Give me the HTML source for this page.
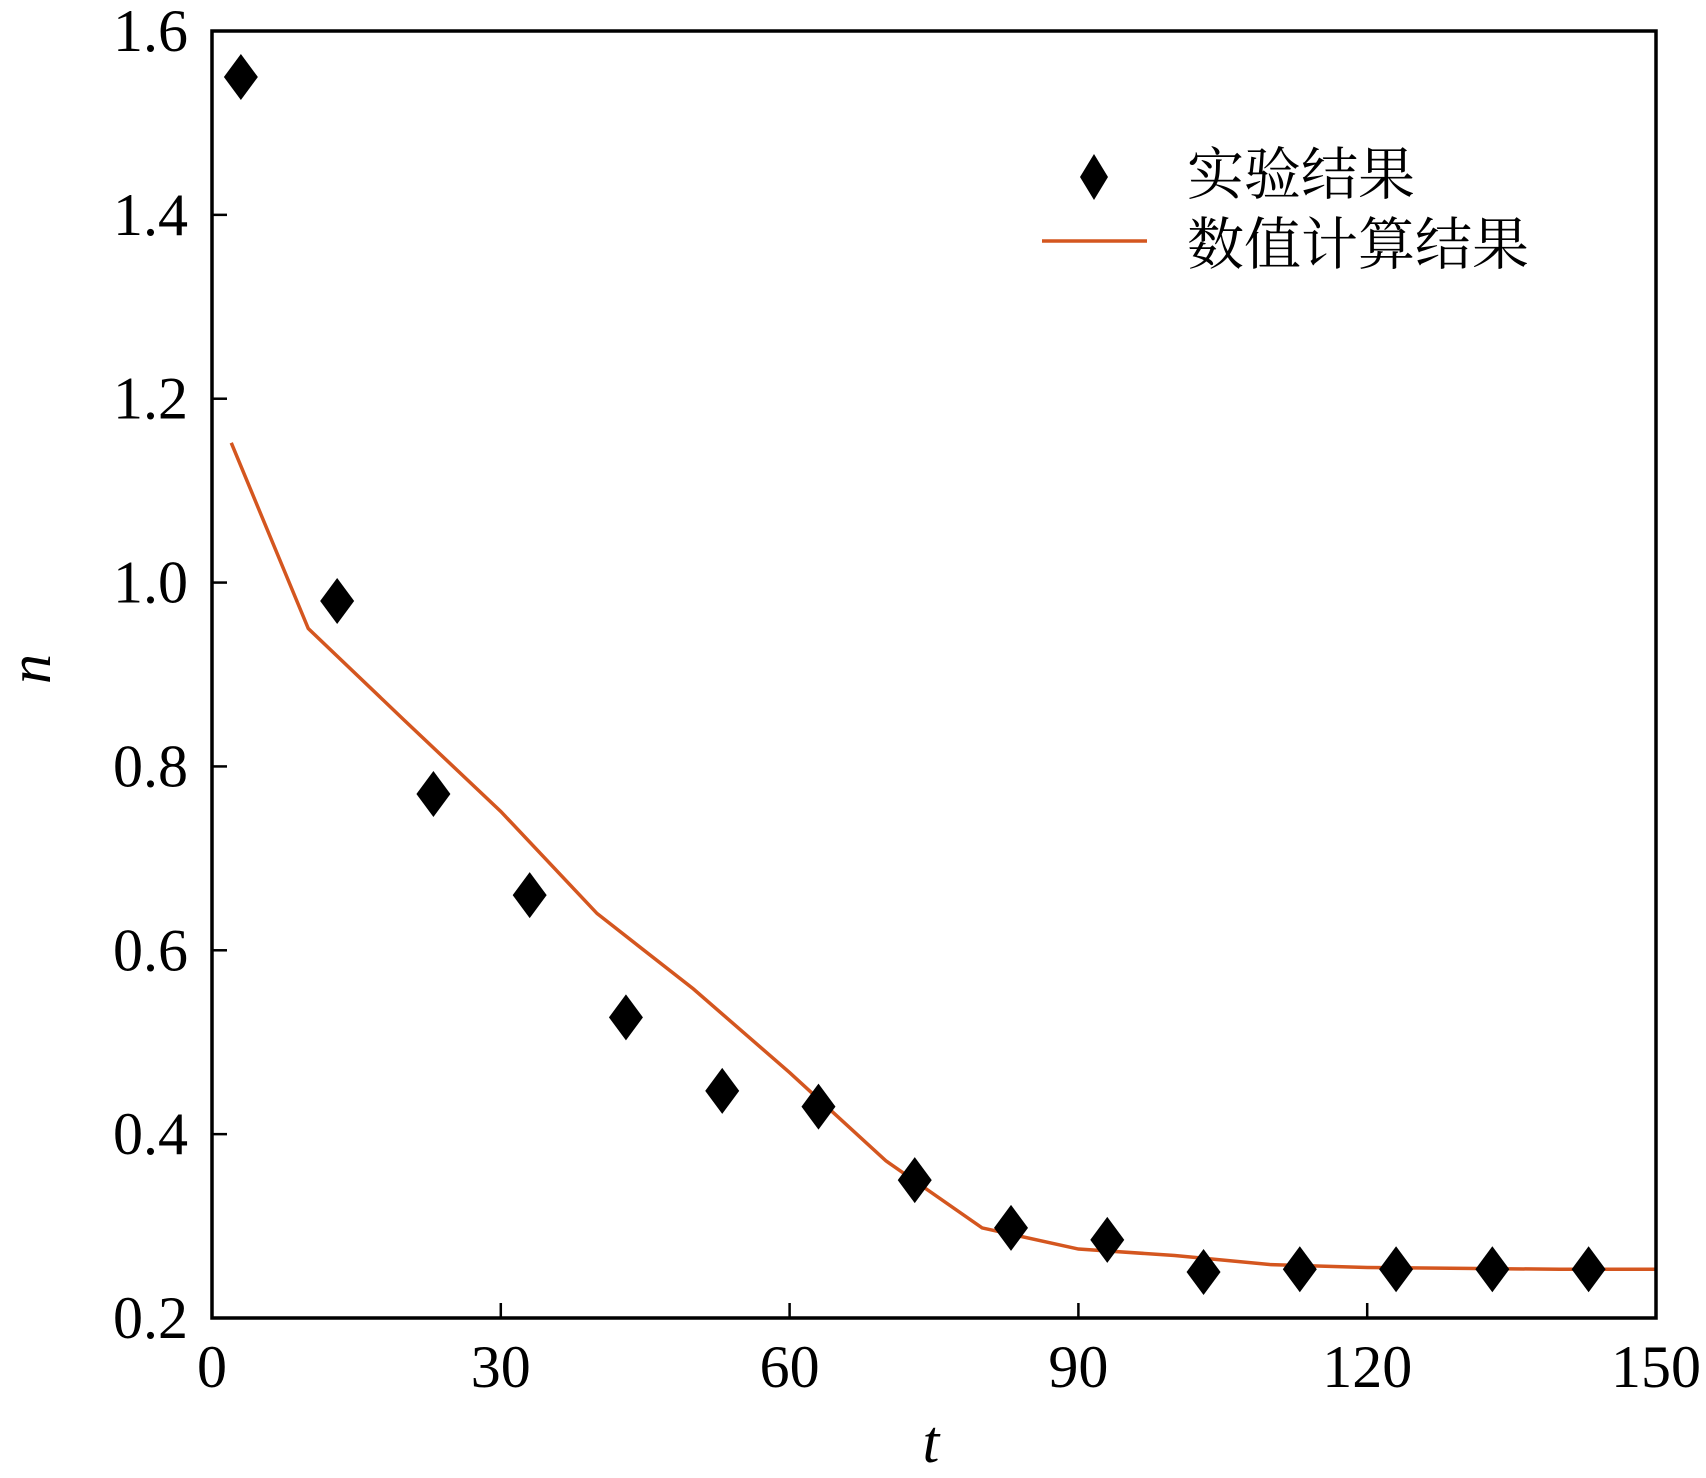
<!DOCTYPE html>
<html><head><meta charset="utf-8"><style>
html,body{margin:0;padding:0;background:#fff;}
svg{display:block;}
.tk{font-family:"Liberation Serif",serif;font-size:60px;fill:#000;}
.lg{font-family:"Liberation Serif","Noto Serif CJK SC",serif;font-size:57px;fill:#000;}
</style></head><body>
<svg id="chart" width="1706" height="1478" viewBox="0 0 1706 1478" xmlns="http://www.w3.org/2000/svg">
<g id="marks"></g>
<rect x="212" y="31" width="1444" height="1287" fill="none" stroke="#000" stroke-width="3.5"/>
<g id="ticks"></g>
<text class="tk" x="931" y="1462" text-anchor="middle" font-style="italic">t</text>
<text class="tk" transform="translate(50,669) rotate(-90)" text-anchor="middle" font-style="italic">n</text>
<g>
<polygon points="1094,154 1108,177 1094,200 1080,177" fill="#000"/>
<text class="lg" x="1187" y="194">实验结果</text>
<line x1="1042" y1="241" x2="1147" y2="241" stroke="#d4561f" stroke-width="3.5"/>
<text class="lg" x="1187" y="264">数值计算结果</text>
</g>
</svg>
<script>
const expT=[3,13,23,33,43,53,63,73,83,93,103,113,123,133,143];
const expN=[1.55,0.98,0.77,0.66,0.527,0.447,0.43,0.35,0.298,0.285,0.25,0.253,0.253,0.253,0.253];
const numT=[2,10,20,30,40,50,60,70,80,90,100,110,120,130,140,150];
const numN=[1.152,0.95,0.85,0.751,0.64,0.558,0.467,0.371,0.298,0.275,0.268,0.258,0.255,0.254,0.253,0.253];
const xTicks=[0,30,60,90,120,150];
const yTicks=[0.2,0.4,0.6,0.8,1.0,1.2,1.4,1.6];
const yLabels=["0.2","0.4","0.6","0.8","1.0","1.2","1.4","1.6"];
const X0=212,X1=1656,Y0=1318,Y1=31;
const sx=v=>X0+(v-0)/(150-0)*(X1-X0);
const sy=v=>Y0-(v-0.2)/(1.6-0.2)*(Y0-Y1);
const NS="http://www.w3.org/2000/svg";
const marks=document.getElementById('marks'),ticks=document.getElementById('ticks');
const line=document.createElementNS(NS,'polyline');
line.setAttribute('points',numT.map((t,i)=>sx(t)+','+sy(numN[i])).join(' '));
line.setAttribute('fill','none');line.setAttribute('stroke','#d4561f');line.setAttribute('stroke-width','3.5');


marks.appendChild(line);
expT.forEach((t,i)=>{const x=sx(t),y=sy(expN[i]);
const p=document.createElementNS(NS,'polygon');
p.setAttribute('points',`${x},${y-23} ${x+17},${y} ${x},${y+23} ${x-17},${y}`);
p.setAttribute('fill','#000');


marks.appendChild(p);});
xTicks.forEach(v=>{const x=sx(v);
const l=document.createElementNS(NS,'line');
l.setAttribute('x1',x);l.setAttribute('x2',x);l.setAttribute('y1',Y0);l.setAttribute('y2',Y0-15);
l.setAttribute('stroke','#000');l.setAttribute('stroke-width','2.5');


ticks.appendChild(l);
const t=document.createElementNS(NS,'text');
t.setAttribute('x',x);t.setAttribute('y',1387);t.setAttribute('text-anchor','middle');t.setAttribute('class','tk');
t.textContent=v;


ticks.appendChild(t);});
yTicks.forEach((v,i)=>{const y=sy(v);
const l=document.createElementNS(NS,'line');
l.setAttribute('x1',X0);l.setAttribute('x2',X0+15);l.setAttribute('y1',y);l.setAttribute('y2',y);
l.setAttribute('stroke','#000');l.setAttribute('stroke-width','2.5');


ticks.appendChild(l);
const t=document.createElementNS(NS,'text');
t.setAttribute('x',188);t.setAttribute('y',y+20);t.setAttribute('text-anchor','end');t.setAttribute('class','tk');
t.textContent=yLabels[i];


ticks.appendChild(t);});
</script>
</body></html>
